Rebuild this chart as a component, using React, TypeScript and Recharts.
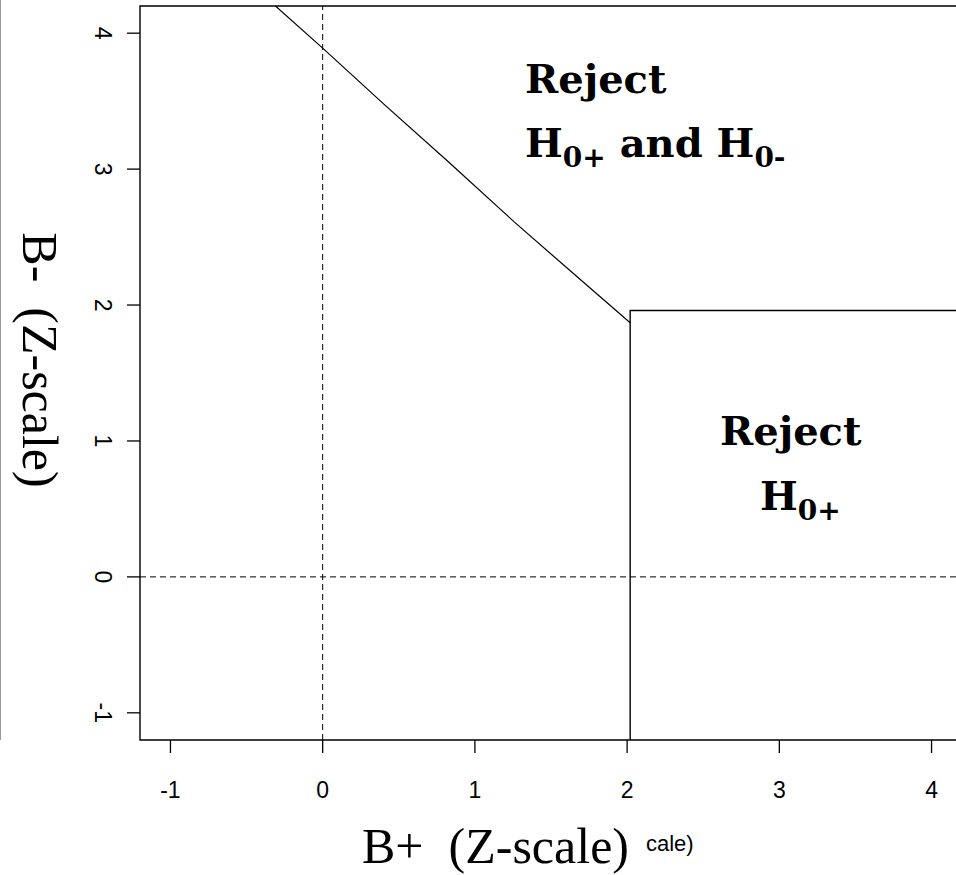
import React from 'react';
import { ComposedChart, Line, XAxis, YAxis, ReferenceLine, ReferenceArea } from 'recharts';

// ticks on both axes
const xTicks = [-1, 0, 1, 2, 3, 4];
const yTicks = [-1, 0, 1, 2, 3, 4];

// boundary of the "reject both" region
const boundaryX = [-0.31, 0, 0.4, 0.82, 1.26, 1.7, 2.02];
const boundaryY = [4.2, 3.89, 3.48, 3.06, 2.61, 2.18, 1.87];

// corner of the "reject H0+" box
const boxX = [2.02, 2.02, 4.2];
const boxY = [-1.2, 1.96, 1.96];

const boundary = boundaryX.map((x, i) => ({ x, y: boundaryY[i] }));
const box = boxX.map((x, i) => ({ x, y: boxY[i] }));

const SANS = '"Liberation Sans", Arial, sans-serif';
const SERIF = '"Liberation Serif", "Times New Roman", serif';
const BOLD_SERIF = '"DejaVu Serif", "Liberation Serif", serif';

const XTick = (props: any) => {
  const { x, y, payload } = props;
  return (
    <text x={x} y={y + 43} textAnchor="middle" fontFamily={SANS} fontSize={23} fill="#000">
      {payload.value}
    </text>
  );
};

const YTick = (props: any) => {
  const { y, payload } = props;
  const cx = 103;
  return (
    <text
      x={cx}
      y={y}
      textAnchor="middle"
      dominantBaseline="central"
      transform={`rotate(90, ${cx}, ${y})`}
      fontFamily={SANS}
      fontSize={23}
      fill="#000"
    >
      {payload.value}
    </text>
  );
};

const bold = { fontFamily: BOLD_SERIF, fontWeight: 700, fontSize: 40, fill: '#000' };

export default function App() {
  return (
    <div style={{ position: 'absolute', left: 0, top: 0, width: 956, height: 875, overflow: 'hidden', background: '#fff' }}>
      <ComposedChart width={1000} height={875} margin={{ top: 6, right: 38, bottom: 0, left: 0 }}>
        <XAxis
          dataKey="x"
          type="number"
          domain={[-1.2, 4.2]}
          allowDataOverflow
          ticks={xTicks}
          tickSize={13}
          tickLine={{ stroke: '#000', strokeWidth: 1.3 }}
          axisLine={false}
          tick={<XTick />}
          height={135}
        />
        <YAxis
          dataKey="y"
          type="number"
          domain={[-1.2, 4.2]}
          allowDataOverflow
          ticks={yTicks}
          tickSize={13}
          tickLine={{ stroke: '#000', strokeWidth: 1.3 }}
          axisLine={false}
          tick={<YTick />}
          width={140}
        />
        <ReferenceArea x1={-1.2} x2={4.2} y1={-1.2} y2={4.2} fill="none" stroke="#000" strokeWidth={1.4} ifOverflow="visible" />
        <ReferenceLine x={0} stroke="#000" strokeDasharray="6 4" strokeWidth={1} />
        <ReferenceLine y={0} stroke="#000" strokeDasharray="6 4" strokeWidth={1} />
        <Line data={boundary} dataKey="y" type="linear" stroke="#000" strokeWidth={1.2} dot={false} isAnimationActive={false} />
        <Line data={box} dataKey="y" type="linear" stroke="#000" strokeWidth={1.4} dot={false} isAnimationActive={false} />
      </ComposedChart>
      <svg width={956} height={875} style={{ position: 'absolute', left: 0, top: 0, pointerEvents: 'none' }}>
        <line x1={0.5} y1={0} x2={0.5} y2={740} stroke="#999" strokeWidth={1} />
        <text x={525} y={93} {...bold}>Reject</text>
        <text x={525} y={157} {...bold}>
          H<tspan fontSize={28} dy={10}>0+</tspan>
          <tspan dy={-10}> and H</tspan>
          <tspan fontSize={28} dy={10}>0-</tspan>
        </text>
        <text x={720} y={445} {...bold}>Reject</text>
        <text x={760} y={510} {...bold}>
          H<tspan fontSize={28} dy={10}>0+</tspan>
        </text>
        <text x={362} y={863} fontFamily={SERIF} fontSize={50} fill="#000" style={{ whiteSpace: 'pre' }}>
          {'B+  (Z-scale)'}
        </text>
        <text x={646} y={851} fontFamily={SANS} fontSize={22} fill="#000">cale)</text>
        <text
          x={40}
          y={360}
          textAnchor="middle"
          dominantBaseline="central"
          transform="rotate(90, 40, 360)"
          fontFamily={SERIF}
          fontSize={50}
          fill="#000"
          style={{ whiteSpace: 'pre' }}
        >
          {'B-  (Z-scale)'}
        </text>
      </svg>
    </div>
  );
}
